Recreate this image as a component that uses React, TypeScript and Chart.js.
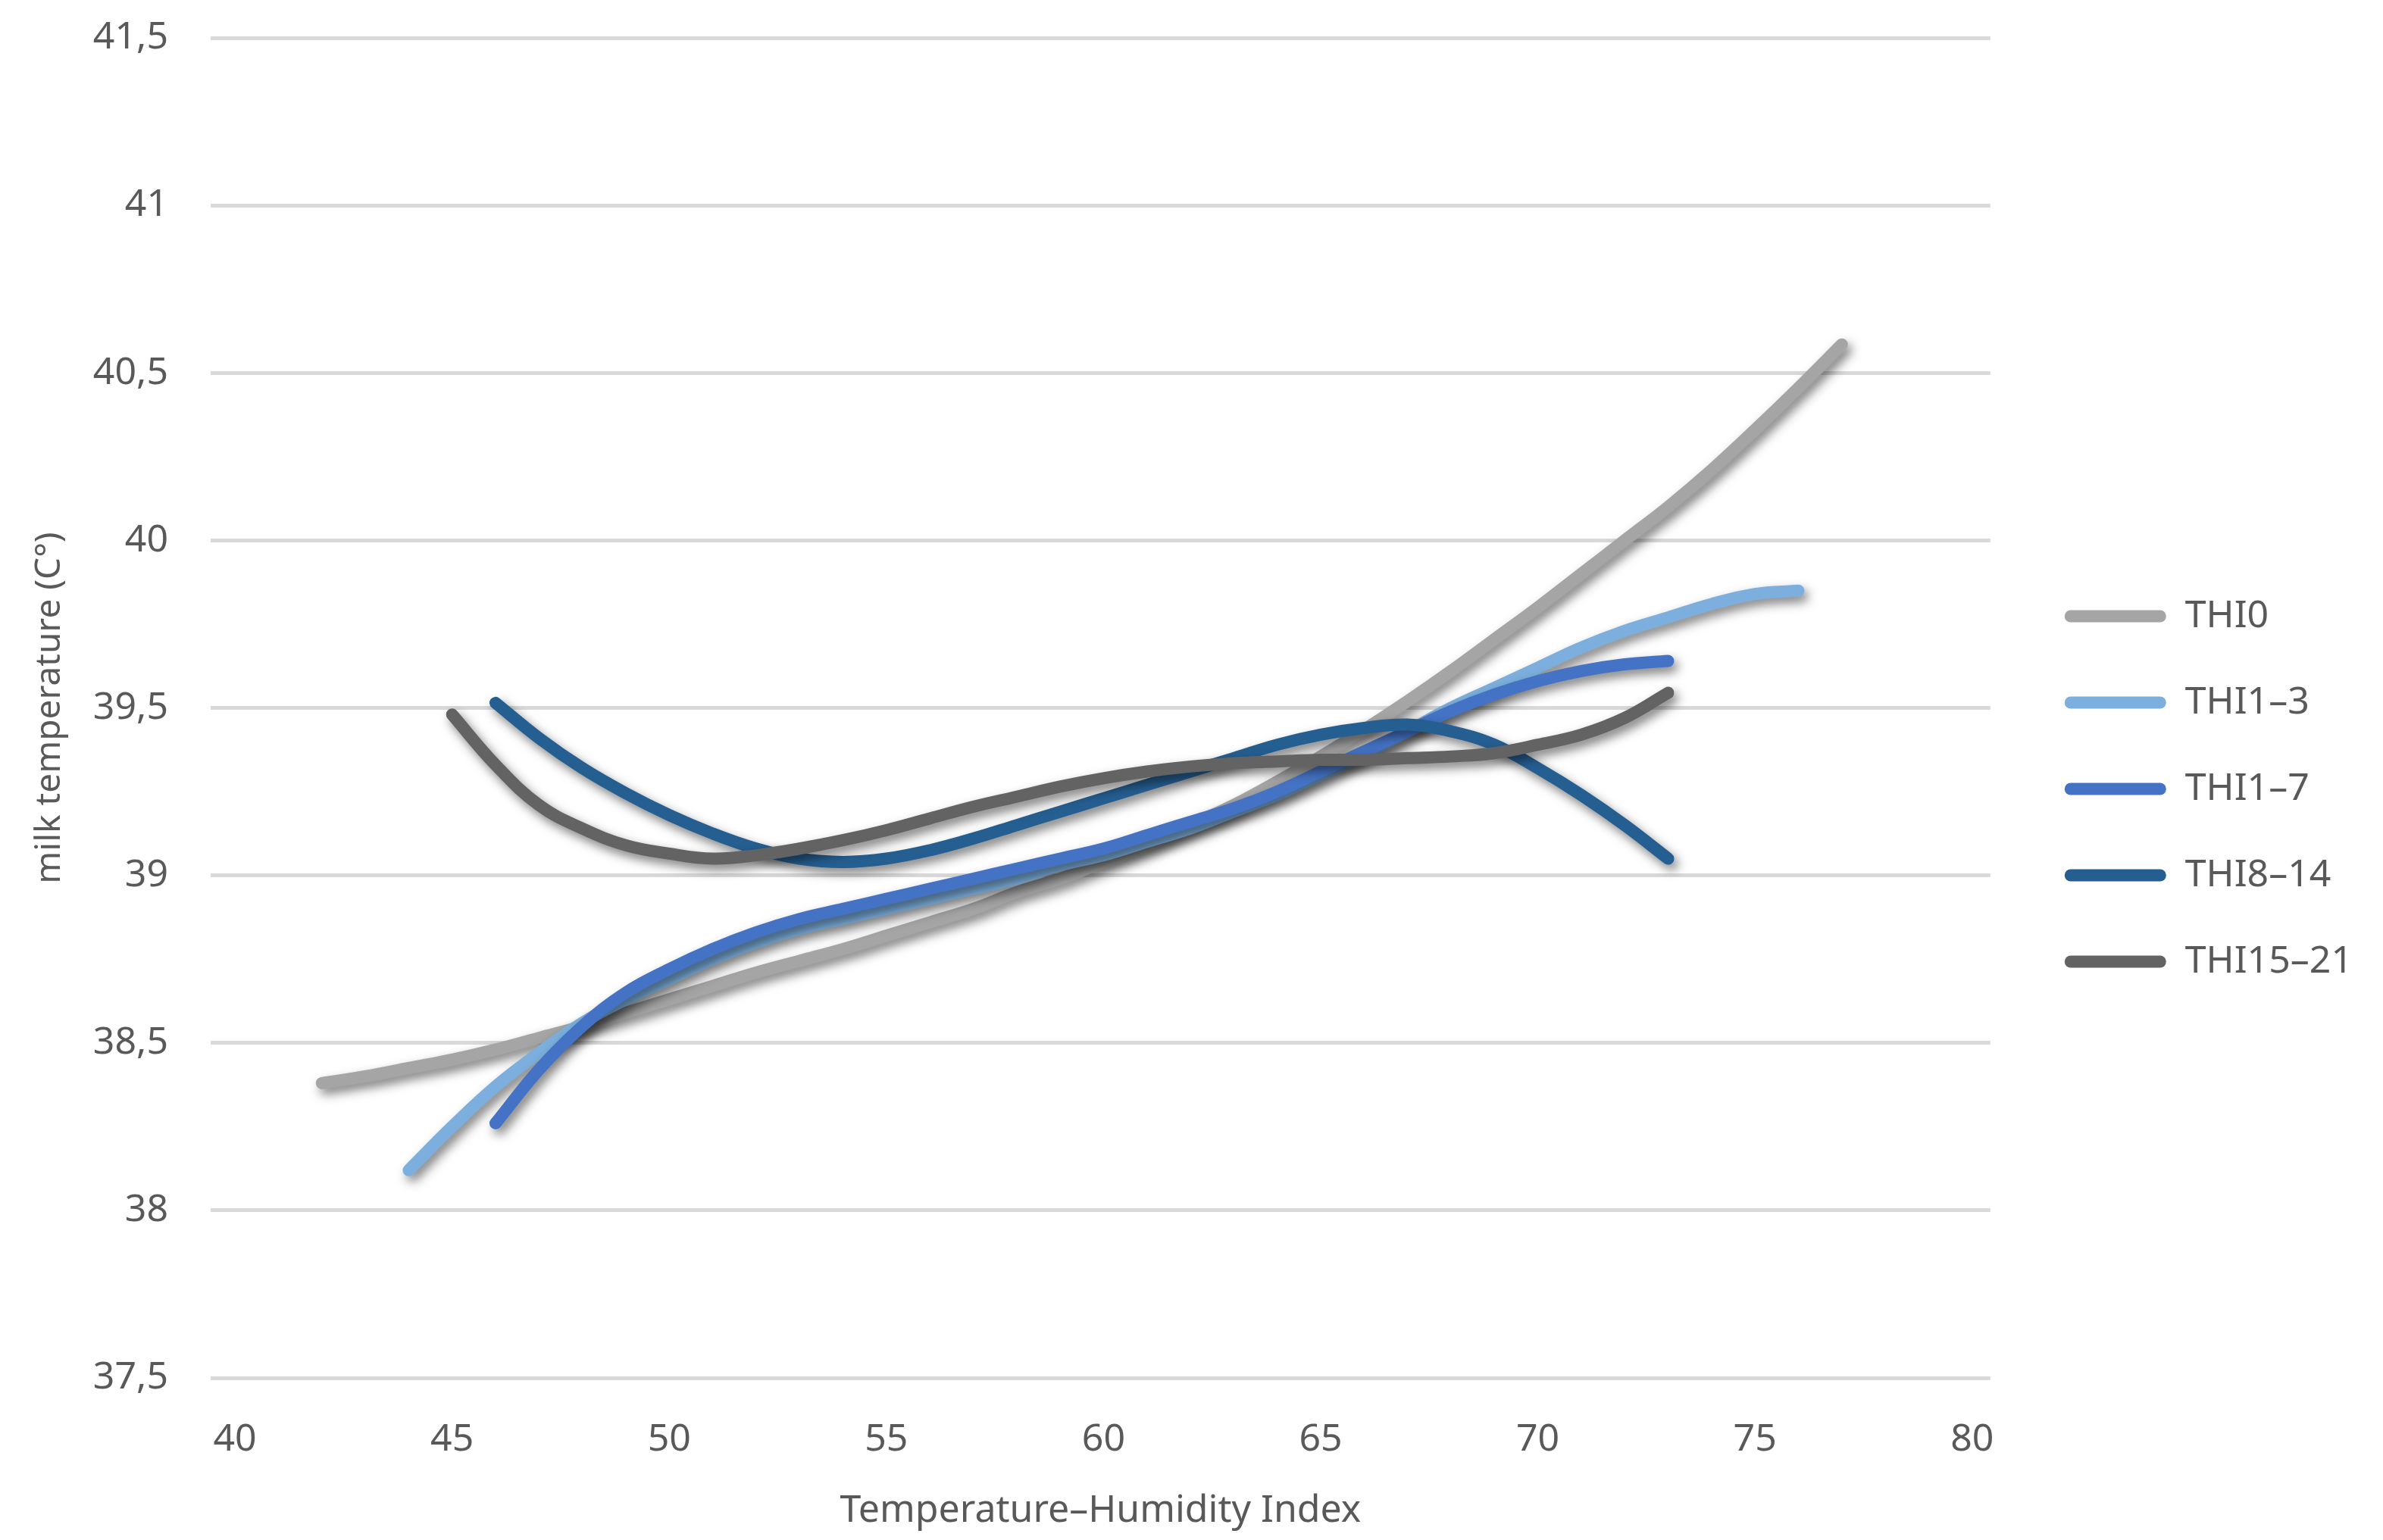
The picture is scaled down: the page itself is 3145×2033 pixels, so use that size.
import React, { useEffect, useRef } from 'react';
import { Chart, registerables } from 'chart.js';

Chart.register(...registerables);

// THI values along the x axis (every curve is sampled at these points)
const thiIndex = [42, 43, 44, 45, 46, 47, 48, 49, 50, 51, 52, 53, 54, 55, 56, 57, 58, 59, 60, 61, 62, 63, 64, 65, 66, 67, 68, 69, 70, 71, 72, 73, 74, 75, 76, 77];

const thi0 = [38.38, 38.40, 38.425, 38.45, 38.48, 38.515, 38.55, 38.59, 38.63, 38.67, 38.71, 38.745, 38.78, 38.82, 38.86, 38.90, 38.95, 38.99, 39.04, 39.09, 39.15, 39.21, 39.28, 39.355, 39.435, 39.52, 39.61, 39.705, 39.80, 39.90, 40.00, 40.10, 40.21, 40.33, 40.455, 40.585];
const thi1to3 = [null, null, 38.12, 38.25, 38.37, 38.47, 38.56, 38.63, 38.69, 38.75, 38.80, 38.84, 38.87, 38.90, 38.93, 38.96, 38.99, 39.03, 39.06, 39.10, 39.14, 39.19, 39.24, 39.30, 39.36, 39.43, 39.50, 39.56, 39.62, 39.68, 39.73, 39.77, 39.81, 39.84, 39.85, null];
const thi1to7 = [null, null, null, null, 38.26, 38.42, 38.55, 38.65, 38.72, 38.78, 38.83, 38.87, 38.90, 38.93, 38.96, 38.99, 39.02, 39.05, 39.08, 39.12, 39.16, 39.20, 39.25, 39.31, 39.37, 39.43, 39.49, 39.54, 39.58, 39.61, 39.63, 39.64, null, null, null, null];
const thi8to14 = [null, null, null, null, 39.515, 39.41, 39.32, 39.245, 39.18, 39.125, 39.08, 39.05, 39.04, 39.05, 39.075, 39.11, 39.15, 39.19, 39.23, 39.27, 39.31, 39.35, 39.39, 39.42, 39.44, 39.45, 39.43, 39.39, 39.32, 39.24, 39.15, 39.05, null, null, null, null];
const thi15to21 = [null, null, null, 39.48, 39.33, 39.21, 39.14, 39.09, 39.065, 39.05, 39.06, 39.08, 39.105, 39.135, 39.17, 39.205, 39.235, 39.265, 39.29, 39.31, 39.325, 39.335, 39.34, 39.345, 39.345, 39.35, 39.355, 39.365, 39.39, 39.42, 39.47, 39.545, null, null, null, null];

const seriesNames = ['THI0', 'THI1–3', 'THI1–7', 'THI8–14', 'THI15–21'];
const seriesColors = ['#A5A5A5', '#7CAFDD', '#4472C4', '#255E91', '#636363'];

const xTicks = [40, 45, 50, 55, 60, 65, 70, 75, 80];
const yTicks = [37.5, 38, 38.5, 39, 39.5, 40, 40.5, 41, 41.5];

const FONT = '"Noto Sans", "Open Sans", sans-serif';
const TEXT = '#595959';

// soft drop shadow under the curves, like the office chart style
const shadowPlugin = {
  id: 'lineShadow',
  beforeDatasetsDraw(chart: any) {
    const ctx = chart.ctx;
    ctx.save();
    ctx.shadowColor = 'rgba(0, 0, 0, 0.5)';
    ctx.shadowBlur = 14;
    ctx.shadowOffsetX = 5;
    ctx.shadowOffsetY = 7;
  },
  afterDatasetsDraw(chart: any) {
    chart.ctx.restore();
  },
};

const App: React.FC = () => {
  const chartRef = useRef<HTMLCanvasElement | null>(null);

  useEffect(() => {
    if (!chartRef.current) return;
    const series = [thi0, thi1to3, thi1to7, thi8to14, thi15to21];

    const myChart = new Chart(chartRef.current, {
      type: 'line',
      data: {
        labels: thiIndex,
        datasets: series.map((values, i) => ({
          label: seriesNames[i],
          data: values,
          borderColor: seriesColors[i],
          backgroundColor: seriesColors[i],
          borderWidth: 16,
          borderCapStyle: 'round' as const,
          borderJoinStyle: 'round' as const,
          tension: 0.4,
          pointRadius: 0,
          pointHoverRadius: 0,
          fill: false,
          order: series.length - i,
        })),
      },
      options: {
        animation: false,
        responsive: true,
        maintainAspectRatio: false,
        layout: { padding: { top: 50, right: 30, bottom: 0, left: 0 } },
        plugins: {
          tooltip: { enabled: false },
          legend: {
            position: 'right',
            labels: {
              boxWidth: 134,
              boxHeight: 16,
              padding: 64,
              color: TEXT,
              font: { family: FONT, size: 50 },
              generateLabels: (chart: any) =>
                chart.data.datasets.map((ds: any, i: number) => ({
                  text: ds.label,
                  fillStyle: ds.borderColor,
                  strokeStyle: ds.borderColor,
                  lineWidth: 0,
                  borderRadius: 8,
                  fontColor: TEXT,
                  hidden: false,
                  datasetIndex: i,
                })),
            },
          },
        },
        scales: {
          x: {
            type: 'linear',
            min: 39.44,
            max: 80.42,
            afterBuildTicks: (axis: any) => {
              axis.ticks = xTicks.map((v) => ({ value: v }));
            },
            afterFit: (axis: any) => {
              axis.height = 214;
            },
            grid: { display: false, drawTicks: false },
            border: { display: false },
            ticks: {
              padding: 52,
              color: TEXT,
              font: { family: FONT, size: 50 },
              callback: (v: any) => String(v),
            },
            title: {
              display: true,
              text: 'Temperature–Humidity Index',
              color: TEXT,
              font: { family: FONT, size: 50 },
              padding: { top: 0, bottom: 8 },
            },
          },
          y: {
            type: 'linear',
            min: 37.5,
            max: 41.5,
            afterBuildTicks: (axis: any) => {
              axis.ticks = yTicks.map((v) => ({ value: v }));
            },
            afterFit: (axis: any) => {
              axis.width = 278;
              axis.paddingTop = 0;
              axis.paddingBottom = 0;
            },
            grid: { color: '#D9D9D9', lineWidth: 5, drawTicks: false },
            border: { display: false },
            ticks: {
              padding: 56,
              color: TEXT,
              font: { family: FONT, size: 50 },
              callback: (v: any) => String(v).replace('.', ','),
            },
            title: {
              display: true,
              text: 'milk temperature (C°)',
              color: TEXT,
              font: { family: FONT, size: 46 },
              padding: { top: 38, bottom: 0 },
            },
          },
          // empty spacer between the plot area and the legend
          gap: {
            type: 'linear',
            position: 'right',
            display: true,
            afterFit: (axis: any) => {
              axis.width = 34;
              axis.paddingTop = 0;
              axis.paddingBottom = 0;
            },
            grid: { display: false, drawTicks: false },
            border: { display: false },
            ticks: { display: false },
          },
        },
      },
      plugins: [shadowPlugin],
    } as any);

    return () => myChart.destroy();
  }, []);

  return (
    <div style={{ position: 'fixed', left: 0, top: 0, width: '100vw', height: '100vh', background: '#fff' }}>
      <canvas ref={chartRef} />
    </div>
  );
};

export default App;
